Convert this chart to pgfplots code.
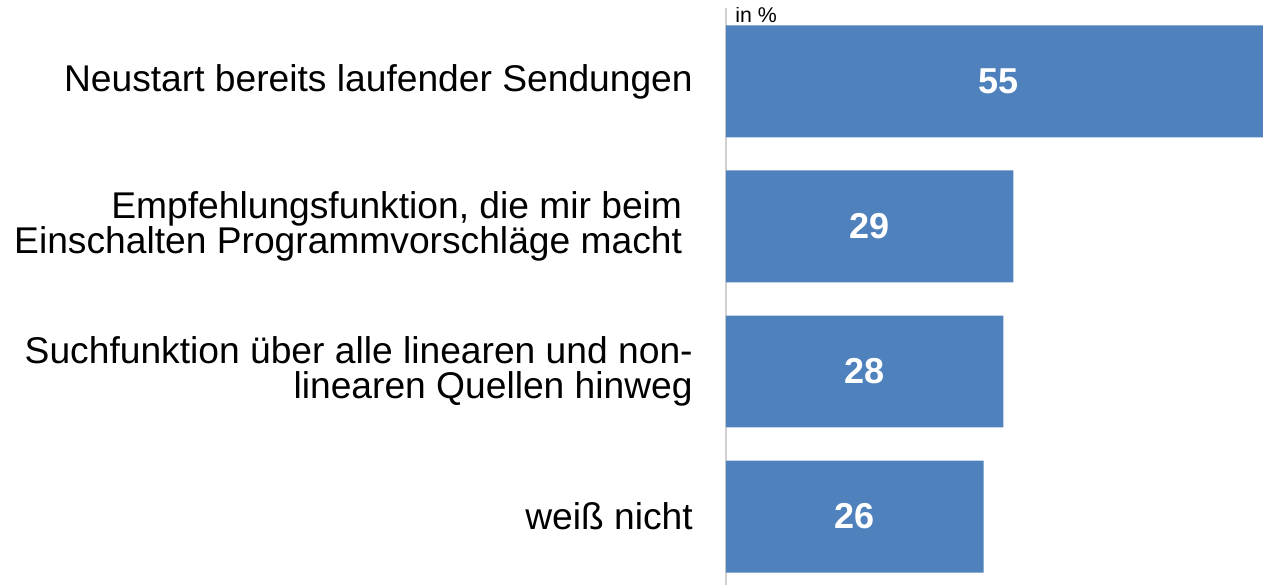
\documentclass[border=0pt]{standalone}
\usepackage{fontspec}
\setmainfont{Liberation Sans}
\usepackage{pgfplots}
\usepackage{pgfplotstable}
\pgfplotsset{compat=1.18}
\definecolor{barblue}{HTML}{4F81BD}
\definecolor{axgray}{HTML}{D0D0D0}
\pgfplotstableread{
y x
3 55
2 29
1 28
0 26
}\datatable

\begin{document}
\begin{tikzpicture}
\path[use as bounding box] (0,0) rectangle (947.25pt,438.75pt);
\begin{axis}[
 at={(544.5pt,0pt)}, anchor=south west,
 scale only axis, width=402.75pt, height=432.75pt,
 xmin=0, xmax=54.2, ymin=-0.4724, ymax=3.5069,
 axis x line=none, axis y line*=left,
 axis line style={draw=axgray, line width=1.5pt},
 xtick=\empty, ytick={0,1,2,3},
 yticklabels={{weiß nicht},{Suchfunktion über alle linearen und non-\\linearen Quellen hinweg},{Empfehlungsfunktion, die mir beim\rule{8pt}{0pt}\\Einschalten Programmvorschläge macht\rule{8pt}{0pt}},{Neustart bereits laufender Sendungen}},
 major tick length=0pt,
 yticklabel style={font=\fontsize{27.9}{26.5}\selectfont, align=right, inner sep=0pt, xshift=-24.75pt, anchor=east},
]
\addplot[xbar, bar width=0.7724, fill=barblue, draw=none] table[x=x,y=y] {\datatable};
\addplot[draw=none, mark=none, nodes near coords, point meta=explicit symbolic,
  nodes near coords style={font=\bfseries\fontsize{27}{30}\selectfont, text=white, anchor=center}]
  table[x expr=\thisrow{x}/2, y=y, meta=x] {\datatable};
\node[anchor=base west, font=\fontsize{16}{18}\selectfont, inner sep=0pt] at (rel axis cs:0,1) [xshift=6.75pt, yshift=-11.25pt] {in \%};
\end{axis}
\end{tikzpicture}
\end{document}
